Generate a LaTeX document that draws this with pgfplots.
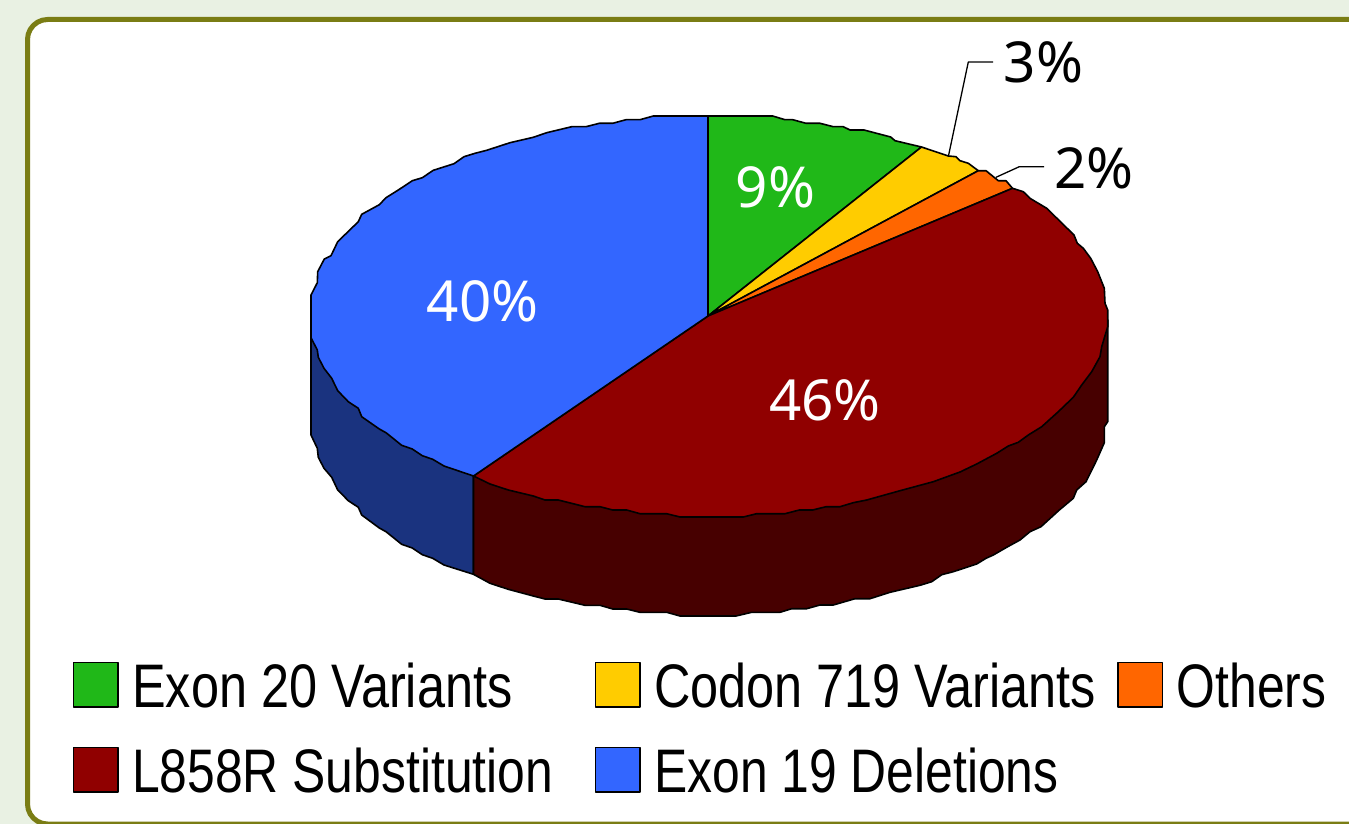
\documentclass[border=0pt]{standalone}
\usepackage{pgfplots}
\pgfplotsset{compat=1.18}
\usepackage{fontspec}
\setmainfont{Liberation Sans}
\newfontfamily\pctfont{Noto Sans}
\definecolor{pagebg}{HTML}{E9F1E3}
\definecolor{frameol}{HTML}{7A7D14}
\definecolor{cgreen}{HTML}{20B818}
\definecolor{cyellow}{HTML}{FFCC00}
\definecolor{corange}{HTML}{FF6600}
\definecolor{cred}{HTML}{900000}
\definecolor{cblue}{HTML}{3366FF}
\definecolor{credside}{HTML}{470000}
\definecolor{cblueside}{HTML}{1A337F}
\newcommand{\leg}[1]{\scalebox{0.82}[1]{\fontsize{61.5pt}{62pt}\selectfont #1}}
\newcommand{\legb}[1]{\scalebox{0.81}[1]{\fontsize{61.5pt}{62pt}\selectfont #1}}
\newcommand{\pct}[1]{{\pctfont\fontsize{56.5pt}{57pt}\selectfont #1}}
\begin{document}
\begin{tikzpicture}
\begin{axis}[name=a,x=1pt,y=1pt,xmin=0,xmax=1349,ymin=0,ymax=824,y dir=reverse,hide axis,clip=true,
  every axis plot/.append style={no markers,forget plot,line join=round,line width=1.6pt}]
% background and frame
\addplot[fill=pagebg,draw=none] coordinates {(0,0)(1349,0)(1349,824)(0,824)} --cycle;
\addplot[fill=white,draw=none] coordinates {(1349,19.5)(47.5,19.5)(42.3,20.2)(37.5,22.2)(33.4,25.4)(30.2,29.5)(28.2,34.3)(27.5,39.5)(27.5,804)(28.2,809.2)(30.2,814)(33.4,818.1)(37.5,821.3)(42.3,823.3)(47.5,824)(1349,824)} --cycle;
\addplot[draw=frameol,line width=5pt] coordinates {(1349,19.5)(47.5,19.5)(42.3,20.2)(37.5,22.2)(33.4,25.4)(30.2,29.5)(28.2,34.3)(27.5,39.5)(27.5,804)(28.2,809.2)(30.2,814)(33.4,818.1)(37.5,821.3)(42.3,823.3)(47.5,824)(1349,824)};
% sides
\addplot[fill=cblueside,draw=black] coordinates {(311,320)(473.5,476)(473.5,574.3)(444,565)(432.7,558.3)(422.3,554.7)(412.3,548)(401.7,544.3)(386,531.7)(379.3,528)(361.7,515)(358.3,507.3)(348.3,500.7)(337.7,490)(331.7,477.3)(324,468.3)(318.3,457.3)(317.3,448.3)(311,435)} --cycle;
\addplot[fill=credside,draw=black] coordinates {(473.5,476)(473.5,574.3)(490,583.3)(508.3,589.3)(533.3,596)(545,599)(558.3,599)(585,605.3)(600,605.3)(612.7,609)(626.7,609)(640,612.3)(666.7,612.3)(680,616)(736,616)(751.7,612.3)(780,612.3)(791.7,608.7)(806.7,608.7)(820,605)(833.3,605)(855,598.7)(870,598.7)(890,592.3)(920,585.3)(931.7,581.7)(941.7,574.7)(953.3,571.7)(976.7,564)(986,558.3)(993.3,555)(1007.7,546.7)(1020,540)(1030,531.7)(1041,526.7)(1059.3,510)(1073.3,498.3)(1076.7,490)(1086,481.7)(1096.7,460)(1104.3,442.7)(1104.3,426.7)(1107.7,421.7)(1107.7,320)} --cycle;
% top wedges
\addplot[fill=cgreen,draw=black] coordinates {(708,316)(708,116)(772.7,116)(785,119.7)(792.7,119.7)(806,123.3)(820,123.3)(833.3,126.7)(843.3,126.7)(850,130)(864,130)(890.7,137)(895,140.7)(921.5,147)} --cycle;
\addplot[fill=cyellow,draw=black] coordinates {(708,316)(921.5,147)(948.3,156)(956,156.7)(960,160.7)(968.3,163.3)(978.3,170.7)} --cycle;
\addplot[fill=corange,draw=black] coordinates {(708,316)(978.3,170.7)(986,170.7)(998.3,180.7)(1006,180.7)(1012.5,188.3)} --cycle;
\addplot[fill=cred,draw=black] coordinates {(708,316)(1012.5,188.3)(1023.3,191.7)(1030,198.3)(1046.7,208.3)(1074,235)(1077.3,243.3)(1083.3,248.3)(1090.7,258.3)(1097.7,271.7)(1104.3,288.3)(1105,303.3)(1107.7,310)(1107.7,326.7)(1101.7,346.7)(1100,356.7)(1091.7,371.7)(1081.7,385)(1073.3,397.3)(1058.3,411.7)(1041.7,426.7)(1028.3,435)(1018.3,442.3)(1008.3,446)(996.7,453.3)(976.7,464)(960,472)(933.3,481.7)(900,490.7)(866.7,500)(853.3,502.7)(840,506.7)(826,506.7)(812.7,510)(799.3,510)(785,513.7)(756.7,513.7)(743.3,517)(680,517)(666.7,513.7)(640,513.7)(626.7,510)(612.7,510)(600,506.7)(585,506.7)(558.3,500)(545,500)(533.3,496)(508.3,490)(490,484)(473.5,476)} --cycle;
\addplot[fill=cblue,draw=black] coordinates {(708,316)(473.5,476)(444,466)(432.7,459.3)(422.3,455.7)(412.3,449)(401.7,445.3)(386,432.7)(379.3,429)(361.7,416.7)(358.3,408.3)(348.3,401.7)(337.7,390.7)(331.7,378.3)(324,368.3)(318.3,357.3)(317.3,350)(311,337.7)(311,295)(317.3,282.7)(317.7,271.7)(324.3,259)(331,255.7)(337.7,241.7)(358.3,221.7)(361.7,214.3)(379.3,204.7)(386,197.7)(398.3,190)(412.3,180.7)(422.3,177.7)(433.3,170.3)(454,163.7)(464,156.7)(475,153.3)(486.7,150.3)(510,142.7)(533.3,137.3)(546.7,132.7)(571.7,126.7)(586,126.7)(599.3,123.3)(612.7,123.3)(626,119.7)(640,119.7)(653.3,116)(708,116)} --cycle;
% leader lines
\addplot[draw=black,line width=1.3pt] coordinates {(948.3,156.7)(968.3,62)(993,62)};
\addplot[draw=black,line width=1.3pt] coordinates {(996,177.3)(1019.3,166.7)(1044,166.7)};
% percent labels
\node[anchor=base,inner sep=0pt] at (axis cs:1043.5,83) {\pct{3\%}};
\node[anchor=base,inner sep=0pt] at (axis cs:1094,188) {\pct{2\%}};
\node[anchor=base,inner sep=0pt,text=white] at (axis cs:775.5,207) {\pct{9\%}};
\node[anchor=base,inner sep=0pt,text=white] at (axis cs:482.5,321) {\pct{40\%}};
\node[anchor=base,inner sep=0pt,text=white] at (axis cs:825,420) {\pct{46\%}};
% legend swatches
\addplot[fill=cgreen,draw=black] coordinates {(73.5,662.5)(118,662.5)(118,707)(73.5,707)} --cycle;
\addplot[fill=cyellow,draw=black] coordinates {(595.5,662.5)(640,662.5)(640,707)(595.5,707)} --cycle;
\addplot[fill=corange,draw=black] coordinates {(1118,662.5)(1162.5,662.5)(1162.5,707)(1118,707)} --cycle;
\addplot[fill=cred,draw=black] coordinates {(73.5,747.5)(118,747.5)(118,792)(73.5,792)} --cycle;
\addplot[fill=cblue,draw=black] coordinates {(595.5,747.5)(640,747.5)(640,792)(595.5,792)} --cycle;
% legend text
\node[anchor=base west,inner sep=0pt] at (axis cs:132,707) {\leg{Exon 20 Variants}};
\node[anchor=base west,inner sep=0pt] at (axis cs:654,707) {\leg{Codon 719 Variants}};
\node[anchor=base west,inner sep=0pt] at (axis cs:1176.5,707) {\legb{Others}};
\node[anchor=base west,inner sep=0pt] at (axis cs:132,792) {\legb{L858R Substitution}};
\node[anchor=base west,inner sep=0pt] at (axis cs:654,792) {\legb{Exon 19 Deletions}};
\end{axis}
\pgfresetboundingbox
\path (a.south west) rectangle (a.north east);
\end{tikzpicture}
\end{document}
